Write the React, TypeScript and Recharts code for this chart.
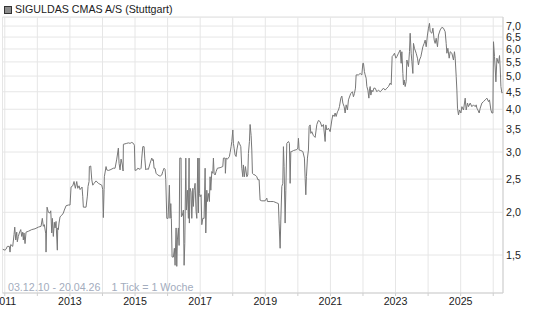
import React from 'react';
import { LineChart, Line, XAxis, YAxis, CartesianGrid, ReferenceLine } from 'recharts';

const title = 'SIGULDAS CMAS A/S (Stuttgart)';
const rangeLabel = '03.12.10 - 20.04.26';
const tickLabel = '1 Tick = 1 Woche';

const yearTicks = [2011, 2012, 2013, 2014, 2015, 2016, 2017, 2018, 2019, 2020, 2021, 2022, 2023, 2024, 2025, 2026];
const priceTicks = [1.5, 2.0, 2.5, 3.0, 3.5, 4.0, 4.5, 5.0, 5.5, 6.0, 6.5, 7.0];

const times = [
  2010.931, 2011.008, 2011.038, 2011.078, 2011.140, 2011.161, 2011.183, 2011.244, 2011.284, 2011.306,
  2011.336, 2011.367, 2011.385, 2011.416, 2011.447, 2011.490, 2011.521, 2011.551, 2011.570, 2011.591,
  2011.622, 2011.653, 2011.723, 2011.828, 2011.929, 2012.031, 2012.114, 2012.153, 2012.184, 2012.215,
  2012.258, 2012.267, 2012.298, 2012.338, 2012.390, 2012.412, 2012.442, 2012.461, 2012.491, 2012.522,
  2012.544, 2012.574, 2012.614, 2012.626, 2012.645, 2012.666, 2012.697, 2012.749, 2012.799, 2012.829,
  2012.882, 2012.952, 2013.004, 2013.035, 2013.087, 2013.127, 2013.167, 2013.210, 2013.241, 2013.281,
  2013.312, 2013.373, 2013.395, 2013.413, 2013.496, 2013.536, 2013.557, 2013.588, 2013.597, 2013.640,
  2013.671, 2013.702, 2013.742, 2013.803, 2013.874, 2013.978, 2014.009, 2014.027, 2014.049, 2014.058,
  2014.110, 2014.132, 2014.181, 2014.233, 2014.335, 2014.387, 2014.439, 2014.488, 2014.510, 2014.540,
  2014.571, 2014.611, 2014.633, 2014.642, 2014.746, 2014.795, 2014.848, 2014.900, 2014.949, 2014.980,
  2015.001, 2015.053, 2015.084, 2015.155, 2015.186, 2015.207, 2015.238, 2015.278, 2015.299, 2015.330,
  2015.361, 2015.410, 2015.462, 2015.514, 2015.545, 2015.563, 2015.585, 2015.616, 2015.646, 2015.698,
  2015.769, 2015.821, 2015.852, 2015.892, 2015.923, 2015.944, 2015.975, 2016.015, 2016.055, 2016.076,
  2016.098, 2016.116, 2016.138, 2016.178, 2016.208, 2016.230, 2016.261, 2016.282, 2016.301, 2016.331,
  2016.353, 2016.374, 2016.414, 2016.424, 2016.454, 2016.485, 2016.507, 2016.528, 2016.559, 2016.577,
  2016.608, 2016.639, 2016.660, 2016.669, 2016.691, 2016.721, 2016.743, 2016.774, 2016.792, 2016.814,
  2016.844, 2016.875, 2016.897, 2016.927, 2016.946, 2016.967, 2016.977, 2016.998, 2017.029, 2017.050,
  2017.081, 2017.121, 2017.152, 2017.173, 2017.204, 2017.222, 2017.253, 2017.284, 2017.305, 2017.327,
  2017.357, 2017.388, 2017.407, 2017.428, 2017.459, 2017.490, 2017.529, 2017.612, 2017.695, 2017.714,
  2017.766, 2017.775, 2017.797, 2017.837, 2017.898, 2017.920, 2017.950, 2017.972, 2018.003, 2018.021,
  2018.043, 2018.073, 2018.104, 2018.126, 2018.175, 2018.205, 2018.248, 2018.279, 2018.310, 2018.328,
  2018.359, 2018.390, 2018.433, 2018.463, 2018.482, 2018.513, 2018.534, 2018.565, 2018.586, 2018.605,
  2018.635, 2018.687, 2018.740, 2018.770, 2018.810, 2018.841, 2018.893, 2018.995, 2019.047, 2019.066,
  2019.148, 2019.250, 2019.354, 2019.403, 2019.425, 2019.456, 2019.477, 2019.508, 2019.538, 2019.557,
  2019.578, 2019.609, 2019.631, 2019.661, 2019.711, 2019.741, 2019.763, 2019.784, 2019.815, 2019.864,
  2019.916, 2019.968, 2019.999, 2020.018, 2020.039, 2020.092, 2020.153, 2020.202, 2020.224, 2020.245,
  2020.263, 2020.294, 2020.325, 2020.346, 2020.377, 2020.399, 2020.429, 2020.479, 2020.531, 2020.583,
  2020.632, 2020.684, 2020.737, 2020.786, 2020.838, 2020.860, 2020.890, 2020.940, 2020.992, 2021.044,
  2021.075, 2021.115, 2021.145, 2021.176, 2021.216, 2021.247, 2021.277, 2021.320, 2021.351, 2021.382,
  2021.422, 2021.452, 2021.483, 2021.523, 2021.554, 2021.606, 2021.627, 2021.677, 2021.707, 2021.738,
  2021.769, 2021.790, 2021.861, 2021.913, 2021.965, 2021.996, 2022.015, 2022.045, 2022.067, 2022.098,
  2022.119, 2022.150, 2022.181, 2022.199, 2022.220, 2022.242, 2022.273, 2022.303, 2022.334, 2022.374,
  2022.426, 2022.476, 2022.528, 2022.580, 2022.629, 2022.681, 2022.733, 2022.783, 2022.835, 2022.866,
  2022.896, 2022.936, 2022.967, 2023.010, 2023.041, 2023.090, 2023.142, 2023.173, 2023.194, 2023.225,
  2023.243, 2023.265, 2023.296, 2023.326, 2023.348, 2023.397, 2023.428, 2023.449, 2023.480, 2023.502,
  2023.532, 2023.551, 2023.581, 2023.634, 2023.673, 2023.704, 2023.735, 2023.778, 2023.839, 2023.879,
  2023.910, 2023.941, 2023.980, 2024.011, 2024.042, 2024.064, 2024.116, 2024.147, 2024.187, 2024.217,
  2024.248, 2024.288, 2024.319, 2024.371, 2024.423, 2024.472, 2024.524, 2024.555, 2024.576, 2024.607,
  2024.647, 2024.678, 2024.730, 2024.779, 2024.810, 2024.832, 2024.863, 2024.884, 2024.903, 2024.933,
  2024.964, 2025.007, 2025.038, 2025.087, 2025.139, 2025.170, 2025.210, 2025.241, 2025.292, 2025.344,
  2025.394, 2025.446, 2025.477, 2025.498, 2025.529, 2025.569, 2025.600, 2025.652, 2025.701, 2025.753,
  2025.805, 2025.855, 2025.885, 2025.928, 2025.959, 2025.990, 2026.008, 2026.039, 2026.060, 2026.082,
  2026.113, 2026.144, 2026.162, 2026.193, 2026.214, 2026.236, 2026.266, 2026.300,
];

const prices = [
  1.56, 1.55, 1.56, 1.59, 1.59, 1.53, 1.61, 1.59, 1.72, 1.81,
  1.66, 1.75, 1.64, 1.70, 1.74, 1.78, 1.70, 1.75, 1.66, 1.74,
  1.62, 1.75, 1.76, 1.78, 1.79, 1.81, 1.82, 1.92, 1.82, 1.84,
  1.73, 1.53, 2.07, 2.00, 1.99, 2.02, 1.74, 1.92, 1.70, 1.87,
  1.80, 1.88, 1.55, 1.80, 1.78, 1.86, 1.94, 1.96, 1.99, 2.03,
  2.09, 2.10, 2.10, 2.37, 2.39, 2.46, 2.35, 2.46, 2.35, 2.39,
  2.33, 2.37, 2.22, 2.07, 2.07, 2.23, 2.38, 2.46, 2.72, 2.73,
  2.49, 2.40, 2.43, 2.47, 2.43, 2.40, 2.33, 1.93, 2.33, 2.54,
  2.72, 2.66, 2.65, 2.66, 2.69, 2.69, 2.86, 3.08, 2.78, 2.66,
  2.86, 2.75, 2.64, 3.16, 3.18, 3.19, 3.18, 3.20, 3.18, 3.14,
  2.65, 2.66, 2.69, 2.67, 2.69, 2.88, 3.11, 3.11, 2.88, 2.66,
  2.68, 2.67, 2.78, 2.88, 2.83, 2.85, 2.69, 2.69, 2.60, 2.57,
  2.55, 2.57, 2.63, 2.69, 2.67, 2.49, 1.92, 1.92, 2.40, 1.92,
  2.12, 1.92, 1.48, 1.48, 1.57, 1.40, 1.80, 1.39, 1.66, 1.80,
  1.60, 2.88, 2.88, 1.94, 1.96, 2.03, 1.40, 1.62, 2.88, 2.03,
  2.32, 1.92, 2.88, 1.86, 2.35, 2.29, 1.92, 2.35, 2.08, 2.32,
  2.43, 2.01, 1.92, 2.88, 1.99, 2.88, 2.27, 2.22, 2.25, 1.84,
  1.92, 1.92, 2.69, 1.74, 2.32, 2.15, 2.27, 2.15, 2.54, 2.32,
  2.63, 2.60, 2.88, 2.60, 2.57, 2.63, 2.69, 2.70, 2.72, 2.88,
  2.88, 2.60, 2.88, 2.86, 2.91, 2.99, 3.11, 3.22, 3.48, 3.18,
  3.08, 2.94, 2.91, 3.04, 3.22, 3.18, 3.11, 2.69, 2.54, 2.75,
  2.54, 2.72, 2.54, 2.57, 2.97, 3.22, 3.61, 3.35, 3.04, 2.60,
  2.58, 2.57, 2.54, 2.49, 2.49, 2.17, 2.16, 2.16, 2.20, 2.15,
  2.15, 2.15, 2.13, 2.12, 1.85, 1.57, 1.90, 2.38, 2.43, 3.11,
  2.72, 1.86, 2.32, 3.18, 3.22, 3.18, 2.43, 3.01, 3.01, 3.03,
  3.04, 3.05, 3.08, 3.29, 3.04, 3.03, 3.01, 2.88, 2.51, 2.25,
  2.54, 2.88, 3.04, 3.56, 3.60, 3.40, 3.44, 3.35, 3.31, 3.61,
  3.71, 3.68, 3.56, 3.61, 3.22, 3.60, 3.48, 3.52, 3.44, 3.72,
  3.85, 3.81, 3.90, 3.81, 3.93, 3.98, 4.07, 4.31, 4.37, 4.17,
  4.07, 3.90, 4.12, 3.98, 4.26, 4.40, 4.45, 4.50, 4.35, 4.45,
  4.61, 5.04, 5.04, 5.09, 5.04, 5.45, 5.45, 5.15, 5.04, 4.93,
  4.66, 4.55, 4.31, 4.55, 4.66, 4.40, 4.55, 4.50, 4.61, 4.61,
  4.50, 4.55, 4.50, 4.55, 4.61, 4.55, 4.61, 4.66, 4.77, 4.72,
  5.70, 5.76, 5.83, 5.64, 5.70, 5.83, 5.96, 5.45, 5.89, 5.09,
  4.71, 4.87, 4.66, 4.82, 5.57, 5.33, 5.89, 6.67, 5.83, 5.51,
  5.09, 6.23, 6.03, 5.83, 5.64, 5.39, 5.57, 5.70, 6.09, 6.23,
  6.37, 6.09, 6.59, 6.90, 7.13, 6.74, 6.67, 6.90, 6.37, 6.23,
  6.45, 6.09, 6.59, 6.82, 6.94, 6.90, 6.74, 6.23, 5.83, 6.03,
  5.64, 5.89, 5.83, 5.57, 5.89, 5.64, 4.98, 4.55, 4.03, 3.85,
  3.98, 3.90, 4.07, 3.98, 4.31, 3.98, 4.17, 4.07, 4.17, 4.07,
  4.12, 4.07, 4.12, 4.03, 3.98, 3.90, 4.03, 4.17, 4.21, 4.26,
  4.31, 4.21, 4.26, 3.98, 3.90, 3.90, 6.30, 5.70, 5.28, 4.81,
  5.64, 5.50, 5.45, 5.74, 5.28, 4.66, 4.46, 4.49,
];

const data = times.map((t, i) => ({ t, price: prices[i] }));

const FONT = '"Liberation Sans", Arial, sans-serif';
const GRID = '#e6e6e6';
const AXIS = '#cfcfcf';

export default function App() {
  return (
    <div style={{ position: 'absolute', left: 0, top: 0, width: 545, height: 327, background: '#fff', fontFamily: FONT }}>
      <LineChart width={545} height={327} data={data} margin={{ top: 17, right: 0, bottom: 0, left: 2.5 }}>
        <CartesianGrid stroke={GRID} strokeWidth={1} />
        <ReferenceLine y={7.43} stroke={GRID} strokeWidth={1} ifOverflow="extendDomain" />
        <XAxis
          dataKey="t"
          type="number"
          domain={[2010.93, 2026.3]}
          allowDataOverflow
          ticks={yearTicks}
          interval={0}
          height={34}
          stroke={AXIS}
          tickSize={3}
          tickMargin={1}
          tick={{ fontSize: 10.67, fill: '#222', fontFamily: FONT }}
          tickFormatter={(v: number) => (v % 2 === 1 ? String(v) : '')}
        />
        <YAxis
          orientation="right"
          scale="log"
          domain={[1.162, 7.44]}
          allowDataOverflow
          ticks={priceTicks}
          interval={0}
          width={42}
          stroke={AXIS}
          tickLine={false}
          tickSize={0}
          tickMargin={3}
          tick={{ fontSize: 10.67, fill: '#222', fontFamily: FONT, textAnchor: 'start' }}
          tickFormatter={(v: number) => v.toFixed(1).replace('.', ',')}
        />
        <Line
          type="linear"
          dataKey="price"
          stroke="#777777"
          strokeWidth={1}
          dot={false}
          isAnimationActive={false}
        />
      </LineChart>
      <div style={{ position: 'absolute', left: 4, top: 6, width: 6, height: 6, background: '#8c8c8c', border: '1px solid #333' }} />
      <div style={{ position: 'absolute', left: 15, top: 2, fontSize: 10.67, lineHeight: '14px', color: '#222', whiteSpace: 'nowrap' }}>
        {title}
      </div>
      <div style={{ position: 'absolute', left: 8, top: 280, fontSize: 10.67, lineHeight: '14px', color: '#a3acbd', whiteSpace: 'nowrap' }}>
        {rangeLabel}
      </div>
      <div style={{ position: 'absolute', left: 111.5, top: 280, fontSize: 10.67, lineHeight: '14px', color: '#a3acbd', whiteSpace: 'nowrap' }}>
        {tickLabel}
      </div>
    </div>
  );
}
